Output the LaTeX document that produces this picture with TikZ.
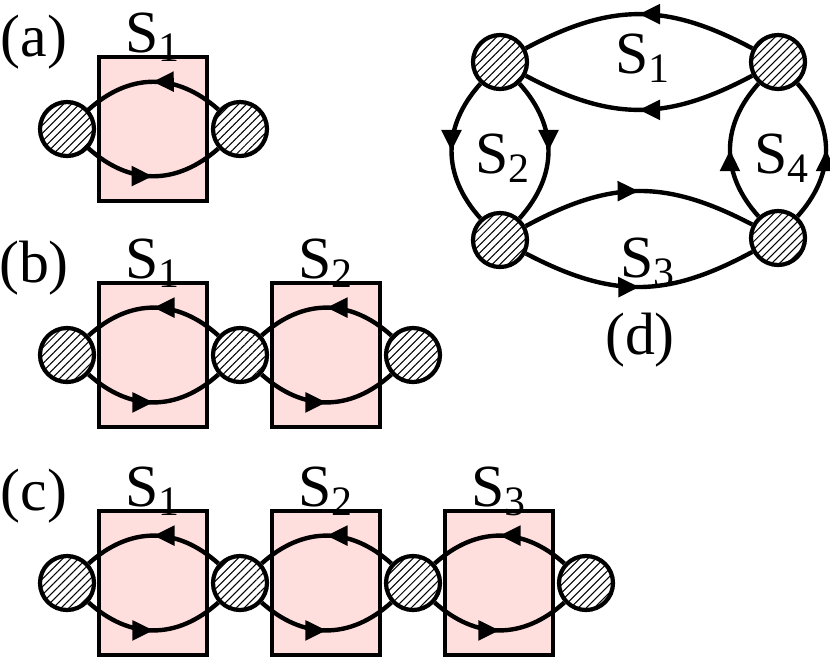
\documentclass[tikz,border=0pt]{standalone}
\usepackage{fontspec}
\setmainfont{Liberation Serif}
\usetikzlibrary{patterns.meta,decorations.markings,arrows.meta}
\tikzset{
	site/.style={circle, draw, line width=1.2pt, minimum size=54*0.01cm, inner sep=0pt,
		fill=gray!35, pattern={Lines[angle=45,distance=1.6pt,line width=0.3pt]}},
	sbox/.style={draw, line width=0.95pt, fill=red!13},
	lens/.style={line width=1.25pt, postaction={decorate}, decoration={markings,
		mark=at position 0.5 with {\arrow{Triangle[length=6pt,width=5.5pt]}}}},
	lbl/.style={font=\fontsize{17}{19}\selectfont, inner sep=0pt},
	bulge/.style={out=-42,in=-138,relative,looseness=1.1}
}
\newcommand{\Sn}[1]{S\textsubscript{#1}}
\begin{document}
\begin{tikzpicture}[x=0.01cm,y=-0.01cm]
			\useasboundingbox (0,0) rectangle (830,669);
			% panels (a)-(c): chains of sites
			\foreach \row/\ycen/\nbox/\tag in {a/129/1/(a), b/355/2/(b), c/583/3/(c)} {
				\node[lbl] at (34,\ycen-87) {\tag};
				\foreach \k in {1,...,\nbox} {
					\draw[sbox] (99+173*\k-173,\ycen-72) rectangle (207+173*\k-173,\ycen+72);
					\node[lbl] at (153+173*\k-173,\ycen-92) {\Sn{\k}};
				}
				\foreach \k in {0,...,\nbox}
					\node[site] (\row\k) at (67+173*\k,\ycen) {};
				\foreach \k [evaluate=\k as \j using int(\k-1)] in {1,...,\nbox} {
					\draw[lens] (\row\k) to[bulge] (\row\j);
					\draw[lens] (\row\j) to[bulge] (\row\k);
				}
			}
			% panel (d): ring of four sites
			\node[site] (tl) at (500,62) {};
			\node[site] (tr) at (778,62) {};
			\node[site] (bl) at (500,240) {};
			\node[site] (br) at (778,238) {};
			\draw[lens] (tr) to[out=-28,in=-152,relative,looseness=1.1] (tl);
			\draw[lens] (tr) to[out=28,in=152,relative,looseness=1.1] (tl);
			\draw[lens] (tl) to[bulge] (bl);
			\draw[lens] (tl) to[out=42,in=138,relative,looseness=1.1] (bl);
			\draw[lens] (br) to[bulge] (tr);
			\draw[lens] (br) to[out=42,in=138,relative,looseness=1.1] (tr);
			\draw[lens] (bl) to[out=-28,in=-152,relative,looseness=1.1] (br);
			\draw[lens] (bl) to[out=28,in=152,relative,looseness=1.1] (br);
			\node[lbl] at (643,58) {\Sn{1}};
			\node[lbl] at (503,158) {\Sn{2}};
			\node[lbl] at (648,262) {\Sn{3}};
			\node[lbl] at (782,158) {\Sn{4}};
			\node[lbl] at (640,340) {(d)};
		\end{tikzpicture}
\end{document}
